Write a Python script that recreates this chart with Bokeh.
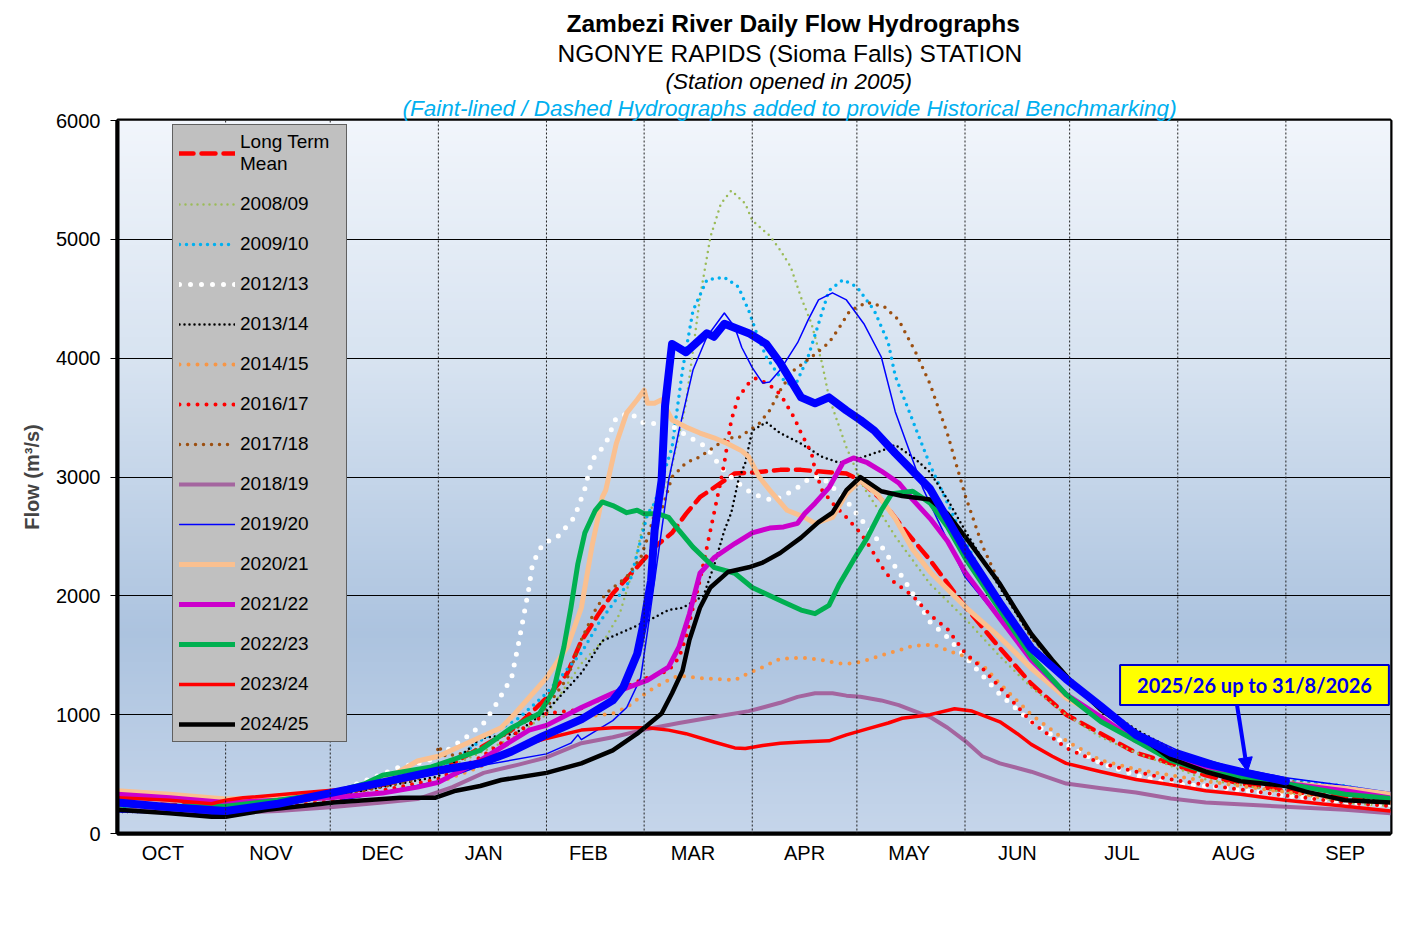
import numpy as np
from bokeh.plotting import figure
from bokeh.models import (Range1d, FixedTicker, Legend, LegendItem, Label, Arrow,
                          NormalHead, Span, Title)
from bokeh.embed import file_html
from bokeh.resources import INLINE

# ---------------- data (day of hydrological year from 1 Oct, flow m3/s) -------------
MONTH_LABELS = ["OCT", "NOV", "DEC", "JAN", "FEB", "MAR", "APR", "MAY", "JUN", "JUL", "AUG", "SEP"]
MONTH_LABEL_DAYS = [13, 44, 76, 105, 135, 165, 197, 227, 258, 288, 320, 352]
MONTH_BOUNDARY_DAYS = [31, 61, 92, 123, 151, 182, 212, 243, 273, 304, 335]
Y_TICKS = [0, 1000, 2000, 3000, 4000, 5000, 6000]

ltm_day = [0, 15, 31, 46, 61, 76, 92, 104, 114, 123, 129, 133, 138, 142, 148, 154, 159, 163, 167, 173,
           177, 183, 190, 196, 204, 209, 213, 219, 225, 233, 243, 253, 262, 272, 282, 292, 302, 312, 322, 335,
           352, 365]
ltm_flow = [260, 240, 230, 270, 320, 410, 520, 720, 890, 1140, 1350, 1620, 1850, 2020, 2210, 2410, 2530, 2690, 2830, 2950,
            3030, 3040, 3060, 3060, 3040, 3030, 2970, 2810, 2580, 2300, 1910, 1560, 1260, 1000, 840, 680, 590, 490, 420, 360,
            300, 260]

y0809_day = [0, 31, 61, 92, 113, 123, 133, 140, 144, 148, 151, 158, 163, 167, 170, 173, 176, 180, 182, 187,
             190, 193, 196, 199, 202, 204, 209, 214, 219, 223, 233, 243, 253, 262, 272, 282, 292, 302, 312, 332,
             352, 365]
y0809_flow = [200, 190, 300, 520, 800, 1000, 1430, 1650, 1850, 2240, 2640, 2970, 3620, 4510, 5020, 5300, 5410, 5300, 5160, 5030,
              4910, 4770, 4510, 4290, 3960, 3670, 3250, 2910, 2690, 2500, 2100, 1810, 1490, 1230, 1000, 810, 680, 570, 455, 360,
              260, 230]

y0910_day = [0, 31, 61, 92, 105, 115, 123, 133, 138, 147, 152, 154, 159, 162, 165, 169, 174, 178, 181, 183,
             186, 190, 194, 198, 201, 204, 208, 212, 217, 221, 223, 233, 243, 253, 262, 272, 282, 292, 302, 312,
             322, 335, 352, 365]
y0910_flow = [220, 200, 320, 520, 800, 970, 1180, 1520, 1770, 2130, 2690, 2780, 3250, 3900, 4400, 4660, 4680, 4600, 4400, 4230,
              4010, 3840, 3750, 4010, 4290, 4570, 4660, 4600, 4400, 4130, 3850, 3100, 2460, 1910, 1490, 1170, 940, 810, 680, 590,
              520, 455, 400, 330]

y1213_day = [0, 31, 61, 81, 86, 91, 100, 105, 108, 113, 115, 118, 119, 122, 126, 131, 134, 136, 140, 143,
             147, 151, 154, 158, 162, 169, 173, 177, 182, 188, 194, 199, 202, 209, 213, 217, 221, 225, 228, 233,
             238, 243, 253, 262, 272, 282, 292, 302, 312, 332, 352, 365]
y1213_flow = [200, 220, 330, 560, 590, 630, 810, 930, 1060, 1310, 1600, 2070, 2270, 2440, 2490, 2660, 2900, 3140, 3280, 3500,
              3540, 3450, 3450, 3450, 3370, 3250, 3080, 2970, 2860, 2800, 2890, 3000, 3000, 2800, 2650, 2510, 2330, 2160, 2020, 1780,
              1650, 1490, 1170, 940, 750, 590, 490, 420, 400, 330, 260, 240]

y1314_day = [0, 31, 61, 92, 104, 114, 123, 133, 139, 146, 152, 158, 162, 168, 171, 174, 176, 178, 180, 182,
             186, 190, 196, 202, 207, 213, 219, 223, 228, 233, 238, 243, 253, 262, 272, 282, 292, 302, 312, 322,
             335, 352, 365]
y1314_flow = [180, 190, 310, 480, 800, 840, 1030, 1350, 1620, 1710, 1790, 1880, 1900, 2000, 2250, 2550, 2700, 2970, 3120, 3390,
              3460, 3370, 3280, 3170, 3120, 3160, 3220, 3270, 3170, 3040, 2810, 2550, 2070, 1650, 1330, 1070, 875, 716, 590, 490,
              412, 330, 260]

y1415_day = [0, 31, 61, 92, 104, 114, 123, 133, 142, 146, 150, 154, 158, 161, 166, 171, 177, 181, 185, 190,
             196, 202, 207, 211, 215, 219, 224, 228, 234, 238, 243, 248, 253, 262, 272, 282, 292, 302, 312, 332,
             352, 365]
y1415_flow = [190, 180, 280, 430, 560, 700, 810, 980, 1010, 1060, 1150, 1230, 1290, 1330, 1310, 1300, 1290, 1350, 1400, 1470,
              1480, 1460, 1430, 1430, 1460, 1500, 1540, 1580, 1590, 1540, 1490, 1420, 1260, 1000, 780, 615, 540, 490, 440, 360,
              280, 260]

y1617_day = [0, 31, 61, 92, 104, 114, 123, 132, 142, 150, 158, 161, 163, 165, 167, 169, 171, 173, 174, 176,
             178, 181, 183, 186, 189, 191, 194, 196, 199, 200, 202, 205, 209, 213, 216, 219, 222, 228, 233, 238,
             243, 248, 253, 262, 272, 282, 292, 302, 312, 332, 352, 365]
y1617_flow = [200, 170, 270, 460, 640, 840, 1010, 1040, 1180, 1290, 1370, 1480, 1650, 1900, 2130, 2410, 2690, 2970, 3120, 3480,
              3670, 3790, 3830, 3790, 3730, 3650, 3500, 3370, 3200, 3060, 2890, 2780, 2660, 2530, 2400, 2250, 2130, 2000, 1840, 1720,
              1520, 1390, 1230, 940, 720, 590, 520, 455, 410, 330, 260, 230]

y1718_day = [0, 31, 61, 85, 91, 92, 94, 100, 106, 115, 123, 129, 133, 137, 140, 146, 150, 152, 154, 156,
             159, 163, 167, 171, 175, 178, 181, 184, 187, 190, 194, 199, 204, 207, 210, 215, 220, 224, 229, 233,
             238, 243, 248, 253, 262, 272, 282, 292, 302, 312, 322, 335, 352, 365]
y1718_flow = [200, 190, 300, 450, 520, 740, 650, 680, 740, 900, 1060, 1310, 1630, 1880, 2020, 2160, 2320, 2490, 2690, 2720,
              3000, 3120, 3170, 3250, 3330, 3330, 3390, 3450, 3560, 3730, 3900, 4010, 4130, 4260, 4400, 4470, 4430, 4320, 4040, 3780,
              3360, 2850, 2420, 2100, 1650, 1330, 1070, 840, 716, 590, 520, 440, 380, 330]

y1819_day = [0, 15, 31, 46, 61, 76, 86, 91, 96, 105, 115, 123, 133, 142, 152, 161, 171, 181, 185, 190,
             195, 200, 205, 209, 213, 219, 224, 233, 238, 243, 248, 253, 262, 272, 282, 292, 302, 312, 332, 352,
             365]
y1819_flow = [200, 190, 170, 190, 220, 260, 290, 340, 390, 510, 580, 640, 760, 810, 880, 930, 980, 1030, 1060, 1100,
              1150, 1180, 1180, 1160, 1150, 1120, 1080, 980, 890, 780, 650, 590, 520, 420, 380, 345, 295, 260, 230, 200,
              170]

y1920_day = [0, 31, 61, 92, 104, 123, 130, 132, 133, 142, 146, 150, 152, 154, 156, 158, 161, 165, 169, 173,
             174, 177, 179, 182, 185, 187, 190, 195, 198, 201, 205, 209, 214, 219, 223, 231, 235, 243, 253, 263,
             273, 282, 293, 304, 319, 335, 350, 365]
y1920_flow = [180, 160, 260, 440, 570, 670, 760, 830, 790, 950, 1060, 1310, 1710, 2130, 2550, 2970, 3390, 3900, 4180, 4340,
              4380, 4260, 4090, 3920, 3790, 3800, 3900, 4130, 4320, 4490, 4550, 4490, 4290, 4010, 3550, 2900, 2650, 2160, 1800, 1500,
              1250, 1060, 850, 700, 560, 470, 410, 345]

y2021_day = [0, 15, 31, 46, 61, 76, 86, 92, 104, 110, 114, 123, 129, 133, 136, 139, 140, 143, 146, 149,
             151, 152, 154, 156, 159, 163, 167, 171, 175, 179, 181, 184, 187, 192, 197, 200, 205, 209, 213, 218,
             223, 228, 233, 243, 253, 262, 272, 282, 292, 302, 312, 322, 335, 352, 365]
y2021_flow = [360, 330, 290, 300, 350, 440, 610, 650, 810, 890, 1010, 1310, 1570, 1900, 2410, 2830, 2890, 3280, 3540, 3650,
              3730, 3620, 3620, 3650, 3480, 3420, 3370, 3330, 3280, 3220, 3170, 3000, 2890, 2720, 2660, 2610, 2660, 2860, 2970, 2850,
              2650, 2390, 2200, 1910, 1650, 1390, 1140, 980, 780, 650, 560, 490, 420, 380, 330]

y2122_day = [0, 15, 31, 46, 61, 76, 86, 92, 104, 118, 123, 133, 142, 152, 158, 161, 164, 167, 171, 177,
             182, 187, 191, 195, 197, 200, 204, 208, 211, 215, 219, 224, 228, 233, 238, 243, 253, 262, 272, 282,
             292, 302, 312, 322, 335, 352, 365]
y2122_flow = [330, 300, 260, 280, 300, 340, 390, 430, 615, 870, 910, 1060, 1180, 1290, 1400, 1570, 1850, 2190, 2320, 2440,
              2530, 2570, 2580, 2610, 2690, 2780, 2910, 3120, 3160, 3120, 3050, 2950, 2810, 2650, 2460, 2200, 1810, 1460, 1170, 980,
              780, 650, 560, 490, 420, 360, 300]

y2223_day = [0, 15, 31, 46, 61, 71, 76, 90, 104, 113, 121, 125, 128, 130, 132, 134, 137, 139, 142, 146,
             149, 151, 155, 158, 161, 165, 171, 177, 182, 190, 196, 200, 204, 207, 211, 215, 219, 222, 228, 233,
             238, 243, 253, 262, 272, 282, 292, 302, 312, 335, 352, 365]
y2223_flow = [240, 230, 230, 280, 340, 420, 490, 560, 700, 890, 1010, 1200, 1570, 1900, 2270, 2530, 2720, 2790, 2760, 2700,
              2720, 2690, 2690, 2660, 2550, 2410, 2240, 2190, 2070, 1960, 1880, 1850, 1920, 2100, 2300, 2490, 2720, 2860, 2880, 2780,
              2580, 2320, 1880, 1490, 1170, 940, 780, 615, 520, 420, 330, 295]

y2324_day = [0, 15, 27, 31, 36, 52, 72, 81, 95, 110, 114, 123, 133, 142, 152, 158, 163, 171, 177, 180,
             185, 190, 196, 204, 209, 215, 221, 225, 233, 240, 245, 253, 258, 262, 268, 272, 282, 292, 302, 312,
             322, 335, 352, 365]
y2324_flow = [300, 280, 250, 280, 300, 340, 390, 450, 530, 670, 720, 800, 870, 890, 890, 870, 840, 770, 720, 715,
              740, 760, 770, 780, 830, 880, 930, 970, 1000, 1050, 1030, 940, 840, 750, 650, 590, 520, 455, 410, 360,
              330, 280, 230, 190]

y2425_day = [0, 15, 27, 31, 43, 62, 81, 91, 97, 104, 110, 123, 133, 142, 149, 156, 159, 162, 164, 167,
             170, 175, 181, 185, 190, 196, 201, 205, 209, 213, 219, 225, 233, 238, 244, 253, 257, 262, 268, 274,
             282, 292, 302, 312, 322, 335, 341, 352, 365]
y2425_flow = [200, 170, 140, 140, 200, 260, 300, 300, 360, 400, 450, 510, 590, 700, 840, 1010, 1180, 1370, 1630, 1900,
              2070, 2200, 2240, 2280, 2360, 2490, 2620, 2700, 2890, 3000, 2880, 2840, 2810, 2690, 2460, 2100, 1910, 1680, 1460, 1260,
              1040, 840, 630, 520, 440, 400, 350, 280, 260]

y2526_day = [0, 15, 31, 46, 61, 76, 92, 104, 113, 122, 133, 142, 145, 149, 151, 153, 154, 156, 157, 159,
             163, 169, 171, 174, 181, 186, 190, 196, 200, 204, 209, 213, 217, 223, 233, 243, 253, 262, 272, 282,
             292, 302, 312, 322, 335]
y2526_flow = [260, 220, 190, 250, 340, 430, 530, 590, 690, 820, 960, 1120, 1230, 1510, 1790, 2130, 2550, 2970, 3600, 4120,
              4050, 4210, 4180, 4290, 4210, 4120, 3960, 3670, 3620, 3670, 3560, 3480, 3390, 3200, 2900, 2390, 1940, 1560, 1300, 1070,
              830, 680, 590, 520, 440]

FONT = "Liberation Sans"

# ---------------- figure -------------------------------------------------------------
p = figure(width=1404, height=940, output_backend="svg", toolbar_location=None,
           x_range=Range1d(0, 365), y_range=Range1d(0, 6000),
           min_border_left=117, min_border_right=14, min_border_top=120, min_border_bottom=107)
p.border_fill_color = "white"
p.background_fill_color = "#c8d8ea"
p.outline_line_color = "black"
p.outline_line_width = 4

# gradient background of plot area
stops_f = [0.0, 0.35, 0.72, 1.0]
stops_c = [(241, 245, 251), (214, 226, 240), (172, 195, 223), (197, 213, 234)]
n = 240
img = np.empty((n, 1), dtype=np.uint32)
view = img.view(dtype=np.uint8).reshape((n, 1, 4))
for i in range(n):
    f = 1.0 - i / (n - 1)
    for ch in range(3):
        view[i, 0, ch] = int(round(np.interp(f, stops_f, [c[ch] for c in stops_c])))
    view[i, 0, 3] = 255
p.image_rgba(image=[img], x=0, y=0, dw=365, dh=6000, level="image")

# axes
p.xaxis.ticker = FixedTicker(ticks=MONTH_LABEL_DAYS)
p.xaxis.major_label_overrides = {d: m for d, m in zip(MONTH_LABEL_DAYS, MONTH_LABELS)}
p.xaxis.major_tick_line_color = None
p.xaxis.major_tick_out = 0
p.xaxis.minor_tick_line_color = None
p.xaxis.axis_line_width = 4
p.xaxis.major_label_standoff = 8
p.xaxis.major_label_text_font = FONT
p.xaxis.major_label_text_font_size = "20px"
p.xaxis.major_label_text_color = "black"

p.yaxis.ticker = FixedTicker(ticks=Y_TICKS)
p.yaxis.major_tick_out = 7
p.yaxis.major_tick_in = 0
p.yaxis.major_tick_line_color = "black"
p.yaxis.minor_tick_line_color = None
p.yaxis.axis_line_width = 4
p.yaxis.major_label_standoff = 10
p.yaxis.major_label_text_font = FONT
p.yaxis.major_label_text_font_size = "20px"
p.yaxis.major_label_text_color = "black"
p.yaxis.axis_label = "Flow (m³/s)"
p.yaxis.axis_label_text_font = FONT
p.yaxis.axis_label_text_font_size = "20px"
p.yaxis.axis_label_text_font_style = "bold"
p.yaxis.axis_label_standoff = 10

p.xgrid.grid_line_color = None
p.ygrid.grid_line_color = "black"
p.ygrid.grid_line_width = 1

# ---------------- series --------------------------------------------------------------
series = [
    ("Long Term\nMean", ltm_day, ltm_flow, "#ff0000", 4.5, "14 8"),
    ("2008/09", y0809_day, y0809_flow, "#9bbb59", 2.5, "0 6"),
    ("2009/10", y0910_day, y0910_flow, "#00b0f0", 3.5, "0 7"),
    ("2012/13", y1213_day, y1213_flow, "#ffffff", 5, "0 11"),
    ("2013/14", y1314_day, y1314_flow, "#000000", 2.5, "0 5"),
    ("2014/15", y1415_day, y1415_flow, "#f79646", 4, "0 9"),
    ("2016/17", y1617_day, y1617_flow, "#ff0000", 4, "0 9"),
    ("2017/18", y1718_day, y1718_flow, "#9c4f10", 3.5, "0 8"),
    ("2018/19", y1819_day, y1819_flow, "#a4659f", 4, "solid"),
    ("2019/20", y1920_day, y1920_flow, "#0000ff", 1.5, "solid"),
    ("2020/21", y2021_day, y2021_flow, "#fac090", 5, "solid"),
    ("2021/22", y2122_day, y2122_flow, "#cc00cc", 5, "solid"),
    ("2022/23", y2223_day, y2223_flow, "#00b050", 5, "solid"),
    ("2023/24", y2324_day, y2324_flow, "#ff0000", 3.5, "solid"),
    ("2024/25", y2425_day, y2425_flow, "#000000", 4.5, "solid"),
]

items = []
for label, xs, ys, color, w, dash in series:
    r = p.line(x=xs, y=ys, line_color=color, line_width=w, line_dash=dash,
               line_cap="round", line_join="round")
    items.append(LegendItem(label=label, renderers=[r]))

p.line(x=y2526_day, y=y2526_flow, line_color="#0000ff", line_width=8,
       line_cap="round", line_join="round")

legend = Legend(items=items, location=(55, 91), orientation="vertical",
                background_fill_color="#c0c0c0", background_fill_alpha=1.0,
                border_line_color="black", border_line_width=1,
                label_text_font=FONT, label_text_font_size="19px", label_text_color="black",
                glyph_width=56, glyph_height=20, label_height=20, label_width=100, spacing=18,
                padding=6, margin=0, label_standoff=5)
p.add_layout(legend, "center")

for d in MONTH_BOUNDARY_DAYS:
    p.add_layout(Span(location=d, dimension="height", line_color="#222222",
                      line_width=1, line_dash="2 2", level="overlay"))

# annotation box + arrow
note = Label(x=326, y=1250, text="2025/26 up to 31/8/2026", text_align="center",
             text_baseline="middle", text_font="Lato", text_font_style="bold",
             text_font_size="20px", text_color="#0000ee",
             background_fill_color="#ffff00", background_fill_alpha=1.0,
             border_line_color="#0000cc", border_line_width=2, padding=(17, 8), level="overlay")
p.add_layout(note)
p.add_layout(Arrow(end=NormalHead(size=14, fill_color="#0000ff", line_color="#0000ff"),
                   x_start=321, y_start=1080, x_end=324, y_end=520,
                   line_color="#0000ff", line_width=4, level="overlay"))

# titles (added from the plot outward)
titles = [
    ("(Faint-lined / Dashed Hydrographs added to provide Historical Benchmarking)", 285, "italic", "#00b0f0", "22.5px", 0),
    ("(Station opened in 2005)", 548, "italic", "black", "22.5px", 0),
    ("NGONYE RAPIDS (Sioma Falls) STATION", 440, "normal", "black", "24.5px", 0),
    ("Zambezi River Daily Flow Hydrographs", 449, "bold", "black", "24.5px", 1),
]
for txt, off, style, col, size, so in titles:
    p.add_layout(Title(text=txt, align="left", offset=off, standoff=so, text_font=FONT,
                       text_font_style=style, text_color=col, text_font_size=size), "above")

open("out.html", "w").write(file_html(p, INLINE))
